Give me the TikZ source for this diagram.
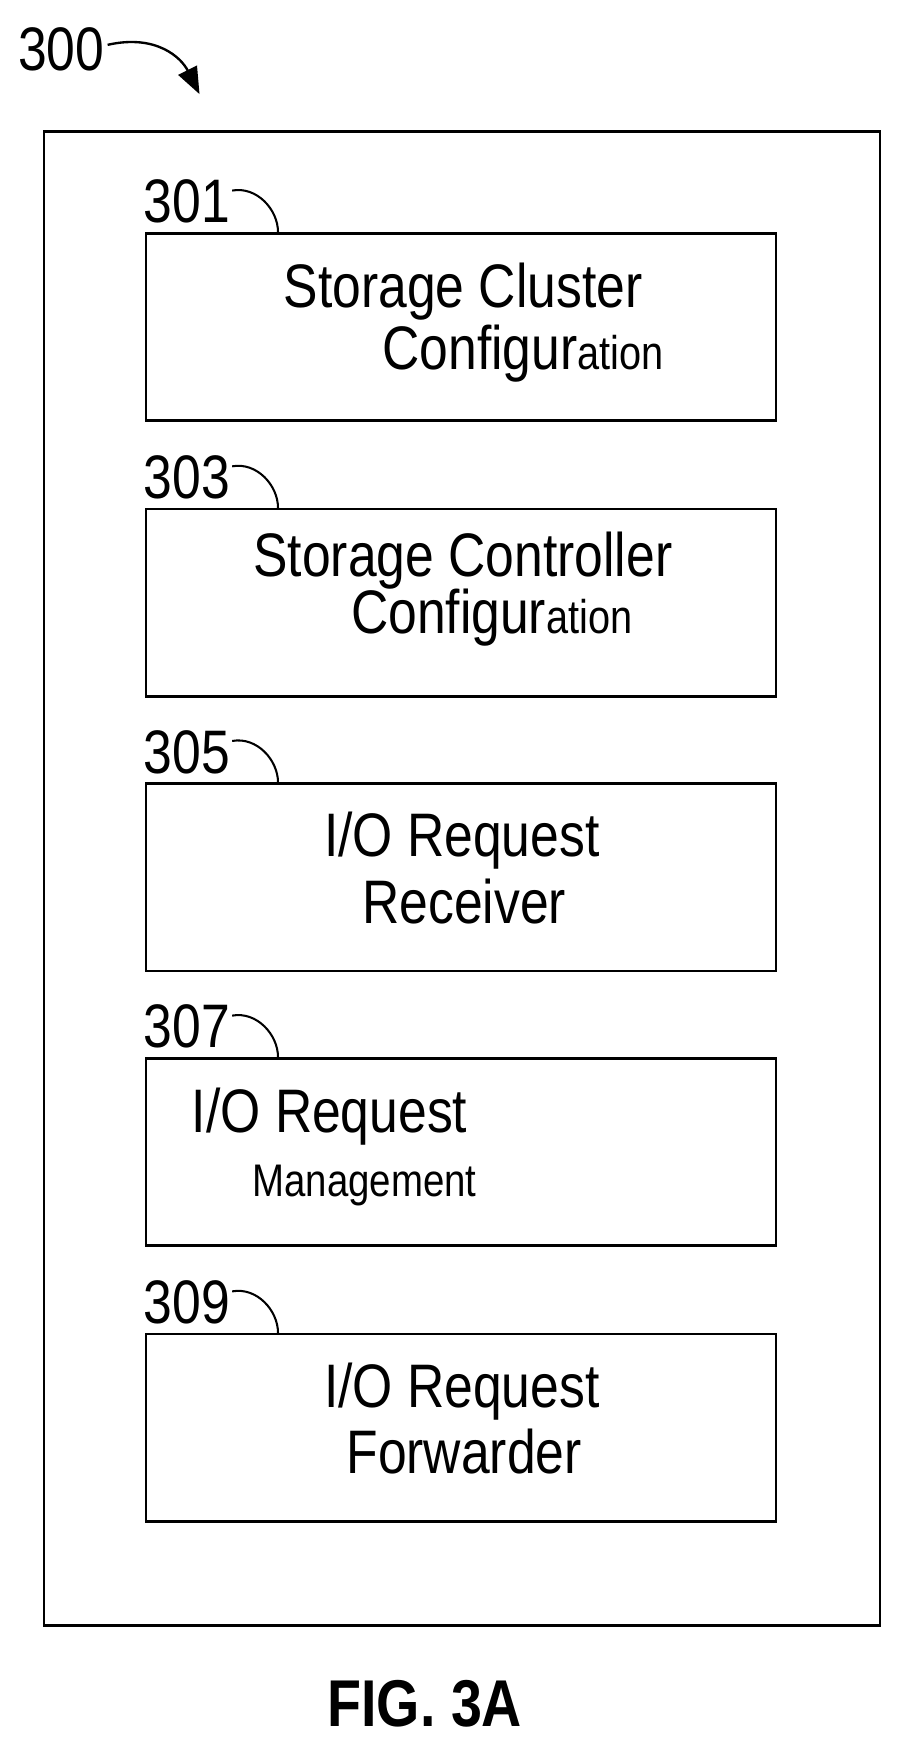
\documentclass[tikz,border=0pt]{standalone}
\usepackage{fontspec}
\setmainfont{Liberation Sans}
\usepackage{graphicx}
\usetikzlibrary{arrows.meta}
\newcommand{\nt}[1]{\scalebox{0.84}[1]{#1}}
\begin{document}
\begin{tikzpicture}[x=0.05cm,y=-0.05cm,
  box/.style={draw,line width=3.2pt},
  txt/.style={anchor=west,inner sep=0pt,font=\fontsize{78}{80}\selectfont},
  sm/.style={anchor=west,inner sep=0pt,font=\fontsize{58}{60}\selectfont},
  hook/.style={line width=2.6pt}]
\useasboundingbox (0,0) rectangle (800,1554);
\node[txt] (n300) at (16,44) {\nt{300}};
\coordinate (a1) at (96,40);
\coordinate (a2) at (178,84);
\draw[line width=3pt,-{Triangle[length=34pt,width=26pt]}] (a1) .. controls (140,30) and (162,52) .. (a2);
\node[box,minimum width=746*0.05cm,minimum height=1333*0.05cm,anchor=north west] (outer) at (38,116) {};
\foreach \n/\y in {301/207,303/453,305/698,307/943,309/1189}{
  \node[box,minimum width=562*0.05cm,minimum height=167*0.05cm,anchor=north west] (b\n) at (129,\y) {};
  \node[txt] (l\n) at (128,\y-27) {\nt{\n}};
  \coordinate (h\n) at (248,\y);
  \draw[hook] (l\n.east) ++(2,-10) .. controls +(22,-4) and +(0,-20) .. (h\n);
}
\node[txt] (t1a) at (253,260) {\nt{Storage Cluster}};
\node[txt] (t1b) at (341,315) {\nt{Configur}\fontsize{60}{60}\selectfont\nt{ation}};
\node[txt] (t3a) at (226,500) {\nt{Storage Controller}};
\node[txt] (t3b) at (313,551) {\nt{Configur}\fontsize{60}{60}\selectfont\nt{ation}};
\node[txt] (t5a) at (289,750) {\nt{I/O Request}};
\node[txt] (t5b) at (323,804) {\nt{Receiver}};
\node[txt] (t7a) at (171,996) {\nt{I/O Request}};
\node[sm] (t7b) at (225,1058) {\nt{Management}};
\node[txt] (t9a) at (289,1241) {\nt{I/O Request}};
\node[txt] (t9b) at (309,1295) {\nt{Forwarder}};
\node[anchor=west,inner sep=0pt,font=\fontsize{84}{86}\selectfont\bfseries] (fig) at (292,1520) {\nt{FIG. 3A}};
\end{tikzpicture}
\end{document}
